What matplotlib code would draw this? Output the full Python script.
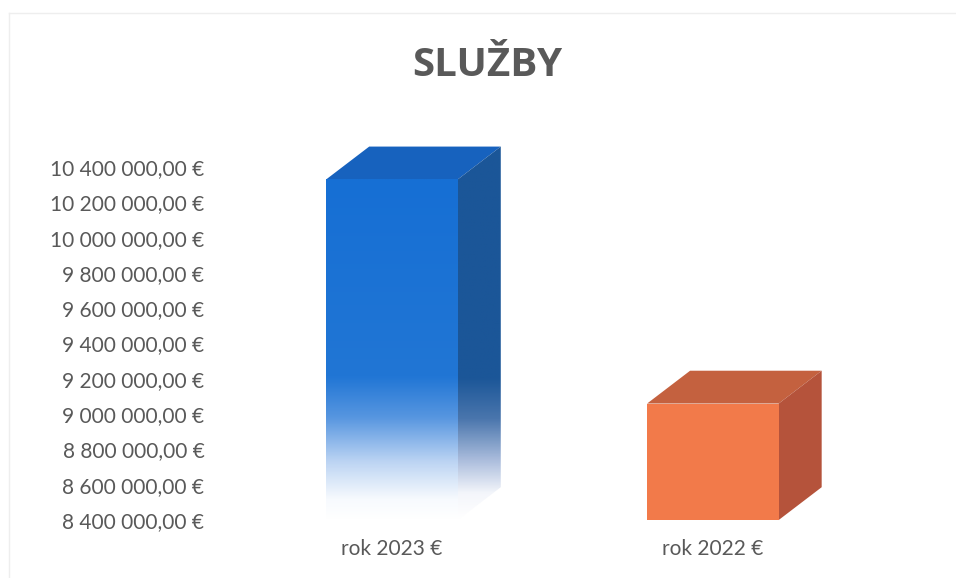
import matplotlib.pyplot as plt
import numpy as np
from matplotlib.colors import LinearSegmentedColormap
from matplotlib.patches import Polygon, Rectangle
from matplotlib.ticker import FuncFormatter, MultipleLocator

# data
categories = ['rok 2023 €', 'rok 2022 €']
values = [10330000, 9060000]
y_min, y_max = 8400000, 10400000

# style
front_cols = ['#166fd4', '#f27a4a']
top_cols = ['#1762be', '#c4613f']
side_cols = ['#1b5698', '#b5533b']
bar_w = 0.41
depth_x = 0.134
depth_y = 186000
text_col = '#595959'

plt.rcParams['font.family'] = ['Lato', 'DejaVu Sans']

fig = plt.figure(figsize=(9.56, 5.78), dpi=100)
ax = fig.add_axes([0.2197, 0.1003, 0.7217, 0.6107])
ax.set_xlim(-0.567, 1.583)
ax.set_ylim(y_min, y_max)


def fmt(v, pos):
    s = f"{v:,.2f}".replace(',', ' ').replace('.', ',')
    return s + ' €'


ax.yaxis.set_major_locator(MultipleLocator(200000))
ax.yaxis.set_major_formatter(FuncFormatter(fmt))
ax.set_xticks(range(len(categories)))
ax.set_xticklabels(categories)
ax.tick_params(axis='both', length=0, labelsize=15, colors=text_col)
ax.tick_params(axis='y', pad=4)
ax.tick_params(axis='x', pad=14)
for s in ax.spines.values():
    s.set_visible(False)

# gradient maps for the blue bar (white at the base -> blue at the top)
front_grad = LinearSegmentedColormap.from_list('fg', [
    (0.0, '#ffffff'), (0.06, '#f7fafe'), (0.17, '#bcd4f3'),
    (0.3, '#5796e0'), (0.42, '#2176d5'), (1.0, front_cols[0])])
side_grad = LinearSegmentedColormap.from_list('sg', [
    (0.0, '#ffffff'), (0.07, '#f4f6fb'), (0.16, '#aabcdc'),
    (0.27, '#4a76ad'), (0.38, side_cols[0]), (1.0, side_cols[0])])
ramp = np.linspace(0, 1, 256).reshape(-1, 1)

for i, v in enumerate(values):
    x0 = i - bar_w / 2
    x1 = i + bar_w / 2
    top = Polygon([(x0, v), (x1, v), (x1 + depth_x, v + depth_y), (x0 + depth_x, v + depth_y)],
                  closed=True, facecolor=top_cols[i], edgecolor='none', clip_on=False, zorder=2)
    side = Polygon([(x1, y_min), (x1, v), (x1 + depth_x, v + depth_y), (x1 + depth_x, y_min + depth_y)],
                   closed=True, facecolor=side_cols[i], edgecolor='none', clip_on=False, zorder=2)
    front = Rectangle((x0, y_min), bar_w, v - y_min, facecolor=front_cols[i],
                      edgecolor='none', clip_on=False, zorder=3)
    ax.add_patch(top)
    ax.add_patch(side)
    ax.add_patch(front)
    if i == 0:
        # fade the blue bar to white at the bottom
        front.set_facecolor('none')
        im = ax.imshow(ramp, cmap=front_grad, origin='lower', aspect='auto',
                       extent=(x0, x1, y_min, v), zorder=3)
        im.set_clip_box(fig.bbox)
        im.set_clip_path(front)
        side.set_facecolor('none')
        im2 = ax.imshow(ramp, cmap=side_grad, origin='lower', aspect='auto',
                        extent=(x1, x1 + depth_x, y_min, v + depth_y), zorder=2)
        im2.set_clip_box(fig.bbox)
        im2.set_clip_path(side)

ax.set_xlim(-0.567, 1.583)
ax.set_ylim(y_min, y_max)

fig.text(0.51, 0.887, 'SLUŽBY', ha='center', va='center', fontsize=29,
         fontweight='bold', color=text_col, family=['Open Sans', 'DejaVu Sans'])

# faint frame of the scanned chart area
fig.add_artist(plt.Line2D([0.009, 1.0], [0.977, 0.977], color='#eeeeee', lw=1))
fig.add_artist(plt.Line2D([0.009, 0.009], [0.0, 0.977], color='#eeeeee', lw=1))

fig.savefig('out.png', dpi=100)
